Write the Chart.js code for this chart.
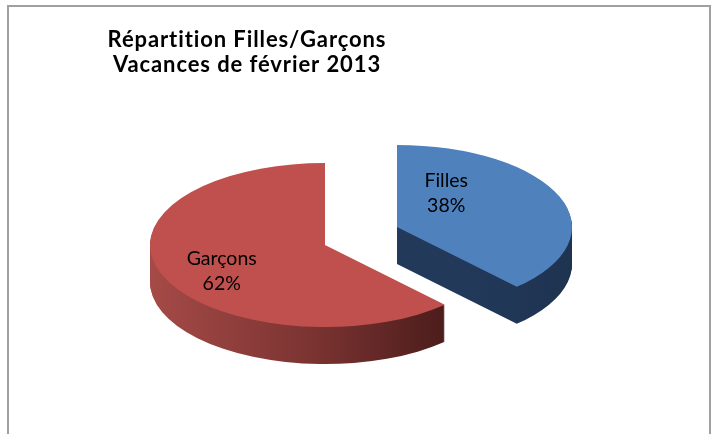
<!DOCTYPE html>
<html>
<head>
<meta charset="utf-8">
<script src="https://cdn.jsdelivr.net/npm/chart.js@4"></script>
<style>
  html, body { margin: 0; padding: 0; background: #fff; overflow: hidden; }
  #wrap { position: relative; width: 718px; height: 434px; }
  #frame { position: absolute; left: 7px; top: 5px; width: 704px; height: 450px; border: 2px solid #a0a0a0; box-sizing: border-box; }
  #chart { position: absolute; left: 0; top: 0; }
</style>
</head>
<body>
<div id="wrap">
  <div id="frame"></div>
  <canvas id="chart" width="718" height="434"></canvas>
</div>
<script>
// -------------------- DATA --------------------
const categories = ['Filles', 'Garçons'];
const percentages = [38, 62]; // %
const titleLines = ['Répartition Filles/Garçons', 'Vacances de février 2013'];

// -------------------- STYLE --------------------
const topColors = ['#4f81bd', '#c0504d'];
const explodeShift = [[72, -18], [0, 0]];      // screen px, Filles pulled out
const squash = 0.469;                          // vertical flattening of the disc
const depth = 37;                              // thickness of the 3D side, px
const labelSpots = [[34, 88], [242, 117]];     // [angle deg from top, radius px]

function sideFill(ctx, i) {
    if (i === 0) {
        const g = ctx.createLinearGradient(395, 0, 575, 0);
        g.addColorStop(0, '#22395a');
        g.addColorStop(1, '#1c2f49');
        return g;
    }
    const g = ctx.createLinearGradient(150, 0, 450, 0);
    g.addColorStop(0, '#a54a47');
    g.addColorStop(0.55, '#7a3331');
    g.addColorStop(1, '#4a1c1b');
    return g;
}

function squashAround(ctx, cx, cy) {
    ctx.translate(cx, cy);
    ctx.scale(1, squash);
    ctx.translate(-cx, -cy);
}

// sides first (stacked copies), then the flattened top faces
const pie3d = {
    id: 'pie3d',
    beforeDatasetsDraw(chart) {
        const ctx = chart.ctx;
        const arcs = chart.getDatasetMeta(0).data;
        const cx = arcs[0].x, cy = arcs[0].y;
        for (let d = depth; d >= 0; d--) {
            arcs.forEach((arc, i) => {
                ctx.save();
                ctx.translate(explodeShift[i][0], explodeShift[i][1] + d);
                squashAround(ctx, cx, cy);
                if (d > 0) {
                    const ghost = Object.create(arc);
                    ghost.options = Object.assign({}, arc.options, { backgroundColor: sideFill(ctx, i) });
                    arc.draw.call(ghost, ctx);
                } else {
                    arc.draw(ctx);
                }
                ctx.restore();
            });
        }
        return false;
    },
    afterDraw(chart) {
        const ctx = chart.ctx;
        const meta = chart.getDatasetMeta(0);
        ctx.save();
        ctx.fillStyle = '#000';
        ctx.font = '19.5px Lato';
        ctx.textAlign = 'center';
        ctx.textBaseline = 'middle';
        meta.data.forEach((arc, i) => {
            const a = labelSpots[i][0] * Math.PI / 180 - Math.PI / 2;
            const r = labelSpots[i][1];
            const x = arc.x + explodeShift[i][0] + Math.cos(a) * r;
            const y = arc.y + explodeShift[i][1] + Math.sin(a) * r * squash;
            ctx.fillText(categories[i], x, y - 12);
            ctx.fillText(percentages[i] + '%', x, y + 13);
        });

        // title
        ctx.font = 'bold 22px Lato';
        ctx.letterSpacing = '0.9px';
        ctx.textBaseline = 'alphabetic';
        ctx.fillText(titleLines[0], 247, 47);
        ctx.fillText(titleLines[1], 247, 72);
        ctx.restore();
    }
};

const ctx1 = document.getElementById('chart').getContext('2d');
new Chart(ctx1, {
    type: 'pie',
    data: {
        labels: categories,
        datasets: [{
            data: percentages,
            backgroundColor: topColors,
            borderWidth: 0,
            hoverOffset: 0,
            clip: false
        }]
    },
    options: {
        responsive: false,
        animation: false,
        events: [],
        radius: 175,
        layout: { padding: { left: 0, right: 68, top: 56, bottom: 0 } },
        plugins: {
            legend: { display: false },
            tooltip: { enabled: false },
            title: { display: false }
        }
    },
    plugins: [pie3d]
});
</script>
</body>
</html>
